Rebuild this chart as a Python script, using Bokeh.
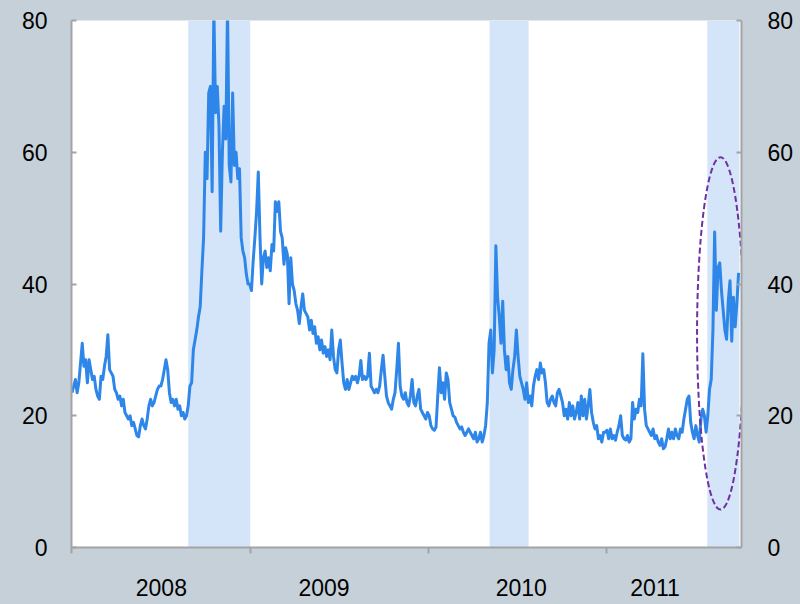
import pandas as pd
from bokeh.plotting import figure
from bokeh.models import Range1d, LinearAxis, FixedTicker, CustomJSTickFormatter
from bokeh.embed import file_html
from bokeh.resources import INLINE

# ---- data (semi-weekly readings, every 3.5 days from 2 Jan 2008) ----
series_start = "2008-01-02"
series_step = "84h"

vix_2008 = [
    23.5, 24.5, 25.5, 23.5, 25, 28, 31, 27.5, 28.5, 25, 28.5, 27, 25.5,
    26, 24, 23, 22.5, 26, 25.5, 27.5, 29, 32.3, 27, 26.5, 26, 24,
    23.5, 22.5, 23, 21.5, 22.5, 20.5, 20, 19.5, 20, 18.5, 19, 18, 17,
    16.8, 18.5, 19.5, 18.5, 18, 19.5, 21.5, 22.5, 21.5, 22, 23, 24, 24.5,
    24.5, 25.5, 27, 28.5, 27, 23.5, 22, 22.5, 21.5, 22.5, 21, 21.5, 20,
    20.5, 19.5, 20, 21.5, 24.5, 25, 30, 31.5, 33, 35, 36.5, 42, 47,
    60, 56, 69, 70, 54, 82, 66, 70, 64, 48, 60, 67, 62,
    82, 58, 55.5, 69, 58, 60, 56, 57.5, 47, 45, 44, 41.5, 40,
]
vix_2009 = [
    40, 39, 43.5, 47, 51, 57, 47, 40, 44, 45, 42.5, 44, 42,
    46, 45, 52.5, 51, 52.5, 48, 47, 43, 45.5, 44.5, 37, 44, 40,
    39, 37, 36, 34, 36.5, 38.5, 36, 35.5, 35, 33, 34.5, 32.5, 33.5,
    31, 32, 30, 31.5, 29.5, 30.5, 29, 30, 28.5, 33, 29, 27, 26.5,
    30, 31.5, 28, 25, 24, 25.5, 24, 25, 26, 25.5, 26, 25, 26,
    28.4, 25.5, 26, 25.5, 26, 29.5, 24.5, 24, 23.5, 24, 23.5, 24.5, 27,
    29.2, 26, 23, 22, 21.5, 21, 22.5, 23.5, 27, 31, 24.5, 23, 22.5,
    23.5, 22, 21.5, 23, 25.5, 22, 21.5, 23, 24, 21, 20.5, 20, 19.5,
]
vix_2010 = [
    20.5, 20, 18.5, 18, 17.8, 18.3, 23, 27.3, 23.5, 25, 22.5, 26.5, 25.5,
    22, 21, 20, 19.8, 19, 18.5, 18, 18.3, 17.5, 17, 17.5, 18, 17.5,
    17, 16.5, 17.5, 16, 16.5, 17.5, 16, 17, 18.5, 22, 31, 33, 26.5,
    30, 45.8, 38, 35, 31, 37.4, 30, 27, 29, 25, 24, 27, 29,
    33, 29, 26, 25, 24, 22.5, 25, 22, 23, 21.5, 24.5, 26, 27,
    25.5, 28, 26.5, 27, 25, 22, 21.5, 22.5, 23, 22, 21.5, 23.5, 24,
    23, 22, 20, 21, 19.5, 22, 20, 21.5, 19.5, 20.5, 22, 19.5, 23,
    20, 22.5, 19.5, 21.5, 24, 20.5, 19, 18, 18.5, 16.5, 17, 16, 17.5,
]
vix_2011 = [
    17.5, 17.8, 16.5, 18, 16.5, 17, 16.3, 17.5, 18.5, 20, 17, 16.5, 16.3,
    17, 16, 16.5, 22, 19.5, 21, 20.5, 22.5, 21.5, 29.4, 21, 18.5, 18,
    17.5, 17, 18, 16.5, 17, 16, 15.5, 16.5, 15, 15.3, 16.5, 18, 16.5,
    17.5, 16.5, 18, 17, 16.5, 18, 17.5, 19.5, 21, 22.5, 23, 19, 17.5,
    16.5, 18.5, 17, 16, 19.5, 21, 20, 17.5, 20, 24, 25.5, 33, 47.9,
    36, 42.5, 43.2, 39, 36, 33, 31.6, 37.5, 40.5, 31.3, 38, 33.5, 37, 41.7,
]

year_starts = ["2008-01-01", "2009-01-01", "2010-01-01", "2011-01-01"]
year_labels = ["2008", "2009", "2010", "2011"]
label_dates = ["2008-07-03", "2009-06-01", "2010-07-10", "2011-04-10"]

shade_start = ["2008-08-27", "2010-05-06", "2011-07-26"]
shade_end = ["2009-01-01", "2010-07-25", "2011-09-30"]

y_ticks = [0, 20, 40, 60, 80]

# highlighted zone (ellipse)
ring_center = "2011-08-22"
ring_days = 96
ring_y = 32.5
ring_h = 53.5

x_start = "2008-01-01"
x_end = "2011-10-04"


def ms(d):
    return pd.Timestamp(d).value / 1e6


BG = "#c6d0d8"
GREY = "#a3a3a3"
FONT = "Liberation Sans"

values = vix_2008 + vix_2009 + vix_2010 + vix_2011
dates = pd.date_range(series_start, periods=len(values), freq=series_step)

p = figure(
    width=800, height=604,
    x_axis_type="datetime",
    x_range=Range1d(ms(x_start), ms(x_end)),
    y_range=Range1d(0, 80),
    output_backend="svg", toolbar_location=None,
    min_border_left=71, min_border_right=59,
    min_border_top=20, min_border_bottom=57,
    background_fill_color="white", border_fill_color=BG,
)
p.outline_line_color = None
p.grid.visible = False

p.quad(left=[ms(d) for d in shade_start], right=[ms(d) for d in shade_end],
       bottom=0, top=80, fill_color="#d4e5fa", line_color=None)

p.line(x=dates, y=values, line_color="#2e86e8", line_width=3, line_join="round")

p.ellipse(x=[ms(ring_center)], y=[ring_y], width=[ring_days * 86400000.0],
          height=[ring_h], fill_color=None, line_color="#7030a0",
          line_width=2, line_dash="6 3")

# x axis
xa = p.xaxis[0]
xa.ticker = FixedTicker(ticks=[ms(d) for d in label_dates],
                        minor_ticks=[ms(d) for d in year_starts])
xa.formatter = CustomJSTickFormatter(args=dict(labels=year_labels),
                                     code="return labels[index];")
xa.major_tick_out = 0
xa.major_tick_in = 0
xa.minor_tick_out = 6
xa.minor_tick_in = 0
xa.minor_tick_line_color = GREY
xa.minor_tick_line_width = 2
xa.axis_line_color = GREY
xa.axis_line_width = 2
xa.major_label_standoff = 25
xa.major_label_text_font = FONT
xa.major_label_text_font_size = "23px"
xa.major_label_text_color = "black"

# y axes
ya = p.yaxis[0]
ra = LinearAxis()
p.add_layout(ra, "right")
for ax, standoff in ((ya, 24), (ra, 26)):
    ax.ticker = FixedTicker(ticks=y_ticks)
    ax.major_tick_in = 5
    ax.major_tick_out = 0
    ax.major_tick_line_color = GREY
    ax.major_tick_line_width = 2
    ax.minor_tick_line_color = None
    ax.axis_line_color = GREY
    ax.axis_line_width = 2
    ax.major_label_standoff = standoff
    ax.major_label_text_font = FONT
    ax.major_label_text_font_size = "23px"
    ax.major_label_text_color = "black"

html = file_html(p, INLINE, title="chart")
html = html.replace(
    "</head>",
    "<style>html,body{margin:0;padding:0;background:%s;overflow:hidden;}</style></head>" % BG,
    1,
)
open("out.html", "w").write(html)
